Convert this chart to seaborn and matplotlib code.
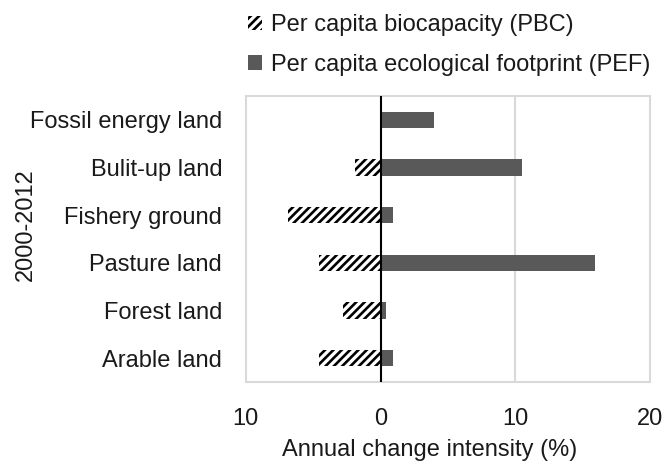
import pandas as pd
import seaborn as sns
import matplotlib.pyplot as plt
import matplotlib.patches as mpatches

# land types, top to bottom
categories = ["Fossil energy land", "Bulit-up land", "Fishery ground",
              "Pasture land", "Forest land", "Arable land"]
# annual change intensity (%), 2000-2012
pbc = [0.0, -1.9, -6.9, -4.6, -2.8, -4.6]
pef = [4.0, 10.5, 0.9, 15.9, 0.4, 0.9]
xticks = [-10, 0, 10, 20]
xticklabels = ["10", "0", "10", "20"]

sns.set_style("white")
plt.rcParams["font.family"] = ["Liberation Sans", "DejaVu Sans"]
plt.rcParams["hatch.linewidth"] = 1.9

df = pd.DataFrame({"land": categories, "PBC": pbc, "PEF": pef})

fig = plt.figure(figsize=(6.66, 4.62), dpi=100)
ax = fig.add_axes([0.369, 0.173, 0.607, 0.619])

sns.barplot(data=df, y="land", x="PBC", order=categories, color="white",
            width=0.34, edgecolor="black", linewidth=0, hatch="////", ax=ax)
sns.barplot(data=df, y="land", x="PEF", order=categories, color="#595959",
            saturation=1, width=0.34, linewidth=0, ax=ax)

ax.set_xlim(-10, 20)
ax.set_ylim(5.5, -0.5)
ax.set_xticks(xticks)
ax.set_xticklabels(xticklabels)
ax.axvline(10, color="#d9d9d9", lw=1.5, zorder=0)
ax.axvline(0, color="black", lw=1.5, zorder=3)
for s in ax.spines.values():
    s.set_color("#d9d9d9")
    s.set_linewidth(1.5)

fs = 17
ax.tick_params(axis="both", length=0, labelsize=fs, colors="#1a1a1a")
ax.tick_params(axis="y", pad=17)
ax.tick_params(axis="x", pad=19)
ax.set_xlabel("Annual change intensity (%)", fontsize=fs, color="#1a1a1a")
ax.xaxis.set_label_coords(0.455, -0.2)
ax.set_ylabel("2000-2012", fontsize=fs, color="#1a1a1a")
ax.yaxis.set_label_coords(-0.517, 0.55)

handles = [mpatches.Patch(facecolor="white", edgecolor="black", linewidth=0, hatch="////"),
           mpatches.Patch(facecolor="#595959", linewidth=0)]
fig.legend(handles, ["Per capita biocapacity (PBC)", "Per capita ecological footprint (PEF)"],
           loc="upper left", bbox_to_anchor=(0.34, 1.015), frameon=False, fontsize=fs,
           handlelength=0.6, handleheight=0.6, handletextpad=0.4, labelspacing=0.75,
           labelcolor="#1a1a1a")

fig.savefig("out.png", dpi=100)
